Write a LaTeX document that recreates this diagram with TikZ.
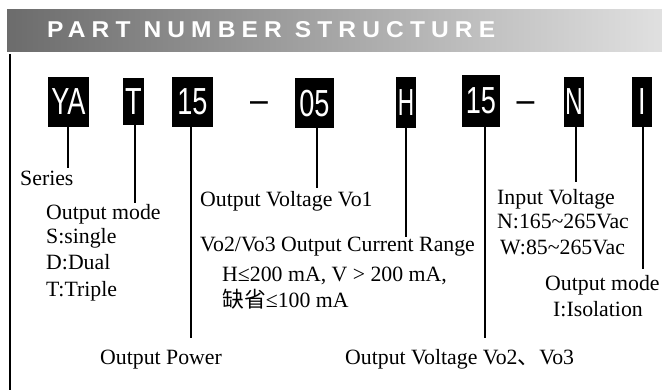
\documentclass[tikz,border=0pt]{standalone}
\usepackage{fontspec}
\usepackage{graphicx}
\setmainfont{Liberation Serif}
\newfontfamily\boxfont{Liberation Sans}
\newfontfamily\hdrfont[LetterSpace=25]{Liberation Sans}
\newfontfamily\cjk{Noto Sans CJK SC}
\definecolor{hdrL}{RGB}{108,108,108}
\definecolor{hdrR}{RGB}{224,224,224}
\newcommand{\bx}[2][0.72]{\scalebox{#1}[1]{#2}}
\begin{document}
\begin{tikzpicture}[x=1pt,y=-1pt,
  lbl/.style={anchor=base west, inner sep=0pt, font=\fontsize{21.8}{26}\selectfont},
  pbox/.style={fill=black, text=white, inner sep=0pt, text depth=0pt,
    font=\boxfont\fontsize{37.7}{40}\selectfont},
  dashtxt/.style={anchor=base, inner sep=0pt, font=\boxfont\fontsize{37.7}{40}\selectfont},
  lead/.style={line width=1.1pt}]
\useasboundingbox (0,0) rectangle (662,390);
\fill[white] (0,0) rectangle (662,390);
% header band
\shade[left color=hdrL, right color=hdrR] (7,9.5) rectangle (662,52);
\node[anchor=base west, inner sep=0pt, text=white] (hdr) at (47,38)
  {\resizebox{448pt}{16pt}{\hdrfont\bfseries PART NUMBER STRUCTURE}};
% left rule
\draw[lead] (10,54) -- (10,390);
% part number boxes
\node[pbox, minimum width=41pt, minimum height=50pt] (ya)  at (68.5,102)  {\bx{YA}};
\node[pbox, minimum width=21pt, minimum height=47pt] (t)   at (133.5,101.5) {\bx{T}};
\node[pbox, minimum width=41pt, minimum height=50pt] (p15) at (192.5,102) {\bx{15}};
\node[dashtxt] (d1) at (259,113) {\bx[0.85]{–}};
\node[pbox, minimum width=39pt, minimum height=50pt] (v05) at (314.5,103) {\bx{05}};
\node[pbox, minimum width=20pt, minimum height=51pt] (h)   at (406,102.5) {\bx[0.6]{H}};
\node[pbox, minimum width=38pt, minimum height=52pt] (v15) at (481,101)   {\bx{15}};
\node[dashtxt] (d2) at (525.5,113) {\bx[0.85]{–}};
\node[pbox, minimum width=20pt, minimum height=50pt] (n)   at (574,102)   {\bx[0.65]{N}};
\node[pbox, minimum width=20pt, minimum height=50pt] (i)   at (642,102)   {\bx{I}};
% leader ends
\coordinate (eYA) at (68,168);
\coordinate (eT)  at (135,203);
\coordinate (eP)  at (191,338);
\coordinate (eV1) at (317,188);
\coordinate (eH)  at (406,237);
\coordinate (eV2) at (485,338);
\coordinate (eN)  at (576,182);
\coordinate (eI)  at (643,269);
\draw[lead] (eYA |- ya.south) -- (eYA);
\draw[lead] (eT |- t.south) -- (eT);
\draw[lead] (eP |- p15.south) -- (eP);
\draw[lead] (eV1 |- v05.south) -- (eV1);
\draw[lead] (eH |- h.south) -- (eH);
\draw[lead] (eV2 |- v15.south) -- (eV2);
\draw[lead] (eN |- n.south) -- (eN);
\draw[lead] (eI |- i.south) -- (eI);
% labels
\node[lbl] (series) at (20,186) {Series};
\node[lbl] (om1) at (46,220) {Output mode};
\node[lbl] (om2) at (46,244) {S:single};
\node[lbl] (om3) at (46,270) {D:Dual};
\node[lbl] (om4) at (46,297) {T:Triple};
\node[lbl] (power) at (100,365) {Output Power};
\node[lbl] (vo1) at (200,207) {Output Voltage Vo1};
\node[lbl] (cr1) at (200,252) {Vo2/Vo3 Output Current Range};
\node[lbl] (cr2) at (222,282) {H≤200 mA, V > 200 mA,};
\node[lbl] (cr3) at (222,308) {{\cjk 缺省}≤100 mA};
\node[lbl] (iv1) at (497,205) {Input Voltage};
\node[lbl] (iv2) at (497,229) {N:165\textasciitilde 265Vac};
\node[lbl] (iv3) at (500,255) {W:85\textasciitilde 265Vac};
\node[lbl] (om5) at (545,291) {Output mode};
\node[lbl] (om6) at (553,317) {I:Isolation};
\node[lbl] (vo23) at (345,364) {Output Voltage Vo2{\cjk 、}Vo3};
\end{tikzpicture}
\end{document}
